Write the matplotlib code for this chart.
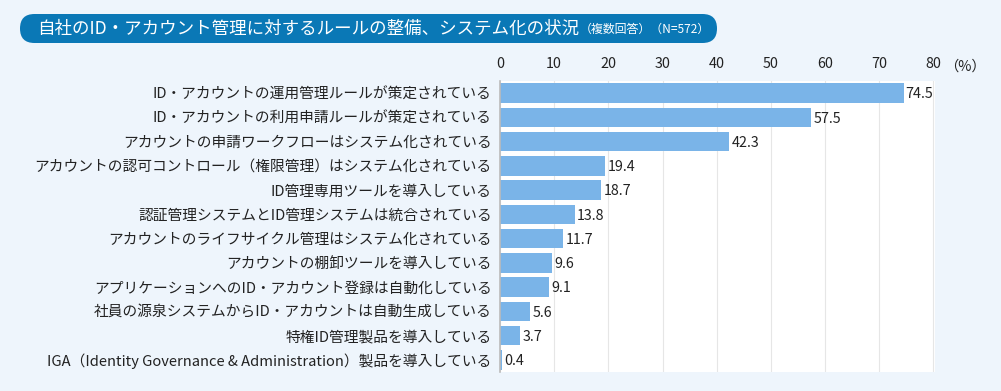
import matplotlib
matplotlib.use("Agg")
import matplotlib.pyplot as plt
from matplotlib.patches import FancyBboxPatch

plt.rcParams['font.family'] = ['Noto Sans CJK JP', 'DejaVu Sans']

# Data
labels = [
    "ID・アカウントの運用管理ルールが策定されている",
    "ID・アカウントの利用申請ルールが策定されている",
    "アカウントの申請ワークフローはシステム化されている",
    "アカウントの認可コントロール（権限管理）はシステム化されている",
    "ID管理専用ツールを導入している",
    "認証管理システムとID管理システムは統合されている",
    "アカウントのライフサイクル管理はシステム化されている",
    "アカウントの棚卸ツールを導入している",
    "アプリケーションへのID・アカウント登録は自動化している",
    "社員の源泉システムからID・アカウントは自動生成している",
    "特権ID管理製品を導入している",
    "IGA（Identity Governance & Administration）製品を導入している",
]
values = [74.5, 57.5, 42.3, 19.4, 18.7, 13.8, 11.7, 9.6, 9.1, 5.6, 3.7, 0.4]
ticks = [0, 10, 20, 30, 40, 50, 60, 70, 80]

W, H = 1001, 391
bg = '#EEF5FC'
bar_color = '#7AB4E8'
title_color = '#0A78B6'
txt = '#222222'

fig = plt.figure(figsize=(W / 100, H / 100), dpi=100)
fig.patch.set_facecolor(bg)

# pixel-coordinate overlay for the title pill
bgax = fig.add_axes([0, 0, 1, 1])
bgax.set_xlim(0, W)
bgax.set_ylim(H, 0)
bgax.axis('off')
bgax.add_patch(FancyBboxPatch((20, 14), 697, 29,
                              boxstyle="round,pad=0,rounding_size=14.5",
                              facecolor=title_color, edgecolor='none'))
t1 = bgax.text(37, 28.5, "自社のID・アカウント管理に対するルールの整備、システム化の状況",
               color='white', fontsize=12.6, va='center', ha='left')
fig.canvas.draw()
bb = t1.get_window_extent()
fig.text((bb.x1 + 1) / W, 1 - 29.5 / H, "（複数回答）（N=572）",
         color='white', fontsize=8.6, va='center', ha='left')

ax = fig.add_axes([500 / W, (H - 372) / H, 435 / W, 291 / H])
ax.set_facecolor('white')
pos = list(range(len(labels)))
ax.barh(pos, values, height=0.8, color=bar_color, zorder=2)
for p, v in zip(pos, values):
    ax.text(v + 0.4, p + 0.05, f"{v}", va='center', ha='left', fontsize=10.3, color=txt)

ax.set_xlim(0, 80.3)
ax.set_ylim(len(labels) - 0.5, -0.5)
ax.set_xticks(ticks)
ax.set_xticklabels([str(t) for t in ticks])
ax.xaxis.tick_top()
ax.tick_params(axis='x', length=0, labelsize=10.3, pad=7, colors=txt)
ax.set_yticks(pos)
ax.set_yticklabels(labels)
ax.tick_params(axis='y', length=0, labelsize=10.6, pad=6, colors=txt)
ax.grid(axis='x', color='#E6E6E6', linewidth=0.8, zorder=0)
for s in ['top', 'right', 'bottom']:
    ax.spines[s].set_visible(False)
ax.spines['left'].set_color('#BBBBBB')
ax.spines['left'].set_linewidth(1.2)

fig.text(944 / W, 1 - 67 / H, "（%）", fontsize=10.3, va='center', ha='left', color=txt)

fig.savefig("out.png", dpi=100, facecolor=bg)
